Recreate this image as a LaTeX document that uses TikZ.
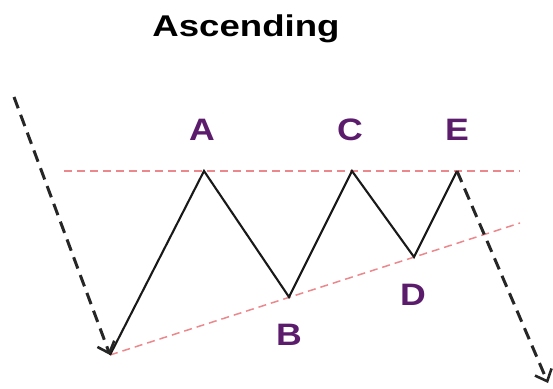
\documentclass[tikz,border=0pt]{standalone}
\usepackage{fontspec}
\setmainfont{Liberation Sans}
\usetikzlibrary{arrows.meta}
\definecolor{lblpurple}{RGB}{92,28,108}
\definecolor{guide}{RGB}{236,135,140}
\begin{document}
\begin{tikzpicture}[x=1pt,y=-1pt,
  lbl/.style={font=\bfseries\fontsize{31}{32}\selectfont, text=lblpurple, xscale=1.15, inner sep=0pt},
  guideline/.style={guide, line width=1.5pt, dash pattern=on 8pt off 5pt},
  zig/.style={black!90, line width=2.1pt, line join=miter},
  trend/.style={black!85, line width=3pt, dash pattern=on 12pt off 7pt, -{Straight Barb[length=10pt,width=18pt,line width=2.6pt]}}]
\useasboundingbox (0,0) rectangle (553,388);
\node[font=\bfseries\fontsize{30}{31}\selectfont, xscale=1.22, inner sep=0pt] (title) at (246,29) {Ascending};
\coordinate (S) at (14,97);
\coordinate (O) at (110,355);
\coordinate (A) at (204,171);
\coordinate (B) at (289,297);
\coordinate (C) at (352,171);
\coordinate (D) at (414,257);
\coordinate (E) at (457,171);
\coordinate (H1) at (64,171);
\coordinate (H2) at (520,171);
\coordinate (T2) at (520,223);
\coordinate (F) at (548,383);
\draw[guideline] (H1) -- (H2);
\draw[guideline] (O) -- (T2);
\draw[zig] (O) -- (A) -- (B) -- (C) -- (D) -- (E);
\draw[trend] (S) -- (O);
\draw[trend] (E) -- (F);
\node[lbl] (la) at (202,130) {A};
\node[lbl] (lc) at (350,130) {C};
\node[lbl] (le) at (457,130) {E};
\node[lbl] (lb) at (289,335) {B};
\node[lbl] (ld) at (413,295) {D};
\end{tikzpicture}
\end{document}
